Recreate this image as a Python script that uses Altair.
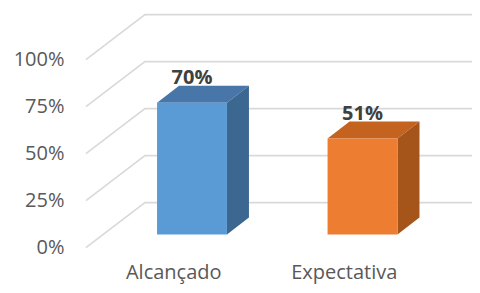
import altair as alt
import pandas as pd

categories = ["Alcançado", "Expectativa"]
values = [0.70, 0.51]
value_labels = ["70%", "51%"]
tick_values = [0, 0.25, 0.5, 0.75, 1.0]
tick_labels = ["0%", "25%", "50%", "75%", "100%"]
front_colors = ["#5B9BD5", "#ED7D31"]
top_colors = ["#4876A8", "#C4621F"]
side_colors = ["#3C6791", "#A6551A"]

# projection geometry in data units
HALF = 0.205        # half bar width
DX, DY = 0.129, 0.09  # bar depth offset
BASE = 0.07         # floor of bars relative to front grid zero
GX0, GX1, GXEND = -0.622, -0.276, 1.75  # gridline x positions
GDY = 0.239         # back wall offset
CAT_SHIFT = -0.107
CAT_Y = -0.135

W, H = 464, 277
XDOM = [-1.079, 1.642]
YDOM = [-0.199, 1.274]
FONT = "Open Sans"

xs = alt.Scale(domain=XDOM, nice=False, zero=False)
ys = alt.Scale(domain=YDOM, nice=False, zero=False)

# gridlines
grid_rows = []
for t in tick_values:
    for k, (gx, gy) in enumerate([(GX0, t), (GX1, t + GDY), (GXEND, t + GDY)]):
        grid_rows.append({"t": t, "o": k, "x": gx, "y": gy})
grid = alt.Chart(pd.DataFrame(grid_rows)).mark_line(
    color="#D9D9D9", strokeWidth=1.6
).encode(
    x=alt.X("x:Q", scale=xs, axis=None),
    y=alt.Y("y:Q", scale=ys, axis=alt.Axis(
        values=tick_values, labelExpr="format(datum.value, '.0%')",
        title=None, domain=False, ticks=False, tickSize=0, grid=False,
        labelPadding=0, offset=-56, labelFont=FONT, labelFontSize=20,
        labelColor="#595959")),
    detail="t:N", order="o:Q",
)

front_rows, face_rows = [], []
for i, (c, v) in enumerate(zip(categories, values)):
    front_rows.append({"c": c, "x": i - HALF, "x2": i + HALF, "y": BASE,
                       "y2": BASE + v, "col": front_colors[i],
                       "lab": value_labels[i], "xc": i, "yt": BASE + v + DY,
                       "xl": i + CAT_SHIFT, "yl": CAT_Y})
    top = BASE + v
    pts = [(i - HALF, top, top), (i - HALF + DX, top, top + DY),
           (i + HALF, top, top + DY), (i + HALF + DX, top + DY, top + DY)]
    for k, (px, py, py2) in enumerate(pts):
        face_rows.append({"key": f"top{i}", "o": k, "x": px, "y": py, "y2": py2,
                          "col": top_colors[i]})
    side = [(i + HALF, BASE, top), (i + HALF + DX, BASE + DY, top + DY)]
    for k, (px, py, py2) in enumerate(side):
        face_rows.append({"key": f"side{i}", "o": k, "x": px, "y": py, "y2": py2,
                          "col": side_colors[i]})

fdf = pd.DataFrame(front_rows)
front = alt.Chart(fdf).mark_rect().encode(
    x=alt.X("x:Q", scale=xs), x2="x2:Q",
    y=alt.Y("y:Q", scale=ys), y2="y2:Q",
    color=alt.Color("col:N", scale=None),
)
faces = alt.Chart(pd.DataFrame(face_rows)).mark_area(interpolate="linear").encode(
    x=alt.X("x:Q", scale=xs),
    y=alt.Y("y:Q", scale=ys, stack=None), y2="y2:Q",
    color=alt.Color("col:N", scale=None), detail="key:N",
)
vlab = alt.Chart(fdf).mark_text(
    font=FONT, fontSize=20, fontWeight="bold", color="#404040",
    baseline="alphabetic", dy=-2
).encode(x=alt.X("xc:Q", scale=xs), y=alt.Y("yt:Q", scale=ys), text="lab:N")
clab = alt.Chart(fdf).mark_text(
    font=FONT, fontSize=20, color="#595959", baseline="middle"
).encode(x=alt.X("xl:Q", scale=xs), y=alt.Y("yl:Q", scale=ys), text="c:N")

chart = alt.layer(grid, faces, front, vlab, clab).properties(
    width=W, height=H, padding=0,
    autosize=alt.AutoSizeParams(type="none"),
).configure_view(stroke=None)

chart.save("out.html", embed_options={"renderer": "svg", "actions": False})
